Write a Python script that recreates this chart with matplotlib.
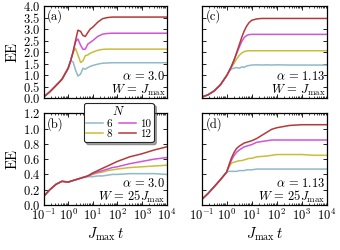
import matplotlib
matplotlib.use("Agg")
import matplotlib.pyplot as plt
from matplotlib.ticker import LogLocator, NullFormatter

plt.rcParams["font.family"] = "serif"
plt.rcParams["font.serif"] = ["cmr10", "DejaVu Serif"]
plt.rcParams["mathtext.fontset"] = "cm"
plt.rcParams["axes.formatter.use_mathtext"] = True
plt.rcParams["font.size"] = 9
plt.rcParams["axes.labelsize"] = 10.5

# time grid (J_max t)
t = [0.1, 0.18, 0.32, 0.56, 1.0, 1.26, 1.58, 2.0, 2.5, 3.2, 4.0, 5.0, 6.3, 7.9,
     10, 16, 25, 40, 63, 100, 316, 1000, 3162, 10000]

sizes = [6, 8, 10, 12]
colors = ["#8fb9c9", "#c9bd3a", "#cf55d6", "#b33a3a"]

# (a) alpha = 3.0, W = J_max
a6 = [0.05, 0.28, 0.55, 0.82, 1.30, 1.62, 1.58, 1.22, 0.96, 1.05, 1.30, 1.26, 1.33, 1.38,
      1.42, 1.48, 1.52, 1.53, 1.54, 1.54, 1.54, 1.54, 1.54, 1.54]
a8 = [0.05, 0.28, 0.55, 0.82, 1.30, 1.62, 1.98, 2.16, 1.88, 1.55, 1.62, 1.85, 1.88, 1.95,
      2.00, 2.08, 2.12, 2.13, 2.13, 2.13, 2.13, 2.13, 2.13, 2.13]
a10 = [0.05, 0.28, 0.55, 0.82, 1.30, 1.62, 2.00, 2.45, 2.57, 2.30, 2.12, 2.13, 2.35, 2.42,
       2.50, 2.68, 2.78, 2.81, 2.82, 2.82, 2.82, 2.82, 2.82, 2.82]
a12 = [0.05, 0.28, 0.55, 0.82, 1.30, 1.62, 2.00, 2.50, 2.95, 2.90, 2.72, 2.68, 2.85, 3.00,
       3.08, 3.30, 3.45, 3.50, 3.52, 3.52, 3.52, 3.52, 3.52, 3.52]

# (c) alpha = 1.13, W = J_max
c6 = [0.05, 0.15, 0.32, 0.58, 0.98, 1.18, 1.27, 1.31, 1.33, 1.30, 1.36, 1.34, 1.40, 1.42,
      1.44, 1.45, 1.44, 1.45, 1.44, 1.45, 1.44, 1.44, 1.44, 1.44]
c8 = [0.05, 0.15, 0.32, 0.58, 0.98, 1.18, 1.36, 1.52, 1.70, 1.86, 1.96, 2.02, 2.05, 2.06,
      2.06, 2.06, 2.06, 2.06, 2.06, 2.06, 2.06, 2.06, 2.06, 2.06]
c10 = [0.05, 0.15, 0.32, 0.58, 0.98, 1.18, 1.40, 1.66, 1.94, 2.22, 2.46, 2.63, 2.72, 2.76,
       2.77, 2.77, 2.77, 2.77, 2.77, 2.77, 2.77, 2.77, 2.77, 2.77]
c12 = [0.05, 0.15, 0.32, 0.58, 0.98, 1.18, 1.40, 1.67, 1.97, 2.32, 2.64, 2.91, 3.13, 3.28,
       3.38, 3.44, 3.46, 3.46, 3.46, 3.46, 3.46, 3.46, 3.46, 3.46]

# (b) alpha = 3.0, W = 25 J_max
b6 = [0.11, 0.20, 0.27, 0.31, 0.30, 0.31, 0.32, 0.33, 0.34, 0.35, 0.36, 0.36, 0.37, 0.37,
      0.37, 0.38, 0.38, 0.39, 0.40, 0.40, 0.41, 0.41, 0.41, 0.40]
b8 = [0.11, 0.20, 0.27, 0.31, 0.30, 0.31, 0.32, 0.33, 0.34, 0.35, 0.36, 0.37, 0.38, 0.39,
      0.40, 0.42, 0.43, 0.45, 0.46, 0.47, 0.49, 0.50, 0.51, 0.52]
b10 = [0.11, 0.20, 0.27, 0.31, 0.30, 0.31, 0.32, 0.33, 0.34, 0.35, 0.36, 0.37, 0.38, 0.39,
       0.41, 0.43, 0.45, 0.47, 0.49, 0.50, 0.54, 0.57, 0.60, 0.62]
b12 = [0.11, 0.20, 0.27, 0.31, 0.30, 0.31, 0.32, 0.33, 0.34, 0.35, 0.36, 0.37, 0.38, 0.40,
       0.42, 0.45, 0.48, 0.51, 0.54, 0.57, 0.63, 0.67, 0.72, 0.76]

# (d) alpha = 1.13, W = 25 J_max
d6 = [0.07, 0.15, 0.24, 0.33, 0.43, 0.44, 0.44, 0.44, 0.44, 0.45, 0.45, 0.45, 0.46, 0.46,
      0.46, 0.47, 0.47, 0.47, 0.47, 0.47, 0.47, 0.47, 0.47, 0.47]
d8 = [0.07, 0.15, 0.24, 0.33, 0.43, 0.50, 0.55, 0.56, 0.57, 0.58, 0.58, 0.59, 0.60, 0.61,
      0.61, 0.63, 0.635, 0.64, 0.65, 0.66, 0.66, 0.66, 0.65, 0.65]
d10 = [0.07, 0.15, 0.24, 0.33, 0.43, 0.52, 0.59, 0.65, 0.69, 0.72, 0.74, 0.76, 0.77, 0.78,
       0.79, 0.82, 0.83, 0.84, 0.85, 0.85, 0.85, 0.85, 0.85, 0.85]
d12 = [0.07, 0.15, 0.24, 0.33, 0.43, 0.53, 0.62, 0.69, 0.74, 0.77, 0.79, 0.81, 0.82, 0.83,
       0.84, 0.87, 0.91, 0.95, 0.99, 1.01, 1.04, 1.05, 1.05, 1.05]

panels = [
    ("(a)", [a6, a8, a10, a12], r"$\alpha\,=\,3.0$", r"$W\,=\,J_{\max}$"),
    ("(c)", [c6, c8, c10, c12], r"$\alpha\,=\,1.13$", r"$W\,=\,J_{\max}$"),
    ("(b)", [b6, b8, b10, b12], r"$\alpha\,=\,3.0$", r"$W\,=\,25J_{\max}$"),
    ("(d)", [d6, d8, d10, d12], r"$\alpha\,=\,1.13$", r"$W\,=\,25J_{\max}$"),
]

fig = plt.figure(figsize=(3.4, 2.5), dpi=100)
boxes = [
    [0.128, 0.607, 0.362, 0.369],
    [0.593, 0.607, 0.368, 0.369],
    [0.128, 0.180, 0.362, 0.367],
    [0.593, 0.180, 0.368, 0.367],
]

axes = []
for i, (tag, series, l1, l2) in enumerate(panels):
    ax = fig.add_axes(boxes[i])
    axes.append(ax)
    for n, y, c in zip(sizes, series, colors):
        ax.plot(t, y, color=c, lw=1.1, label=str(n))
    ax.set_xscale("log")
    ax.set_xlim(0.1, 1e4)
    ax.xaxis.set_major_locator(LogLocator(base=10, numticks=10))
    ax.xaxis.set_minor_locator(LogLocator(base=10, subs=range(2, 10), numticks=10))
    ax.xaxis.set_minor_formatter(NullFormatter())
    ax.tick_params(which="both", direction="in", top=True, right=True, pad=2)
    ax.tick_params(which="major", length=3, width=0.6)
    ax.tick_params(which="minor", length=1.5, width=0.5)
    if i < 2:
        ax.set_ylim(0, 4.0)
        ax.set_yticks([0.0, 0.5, 1.0, 1.5, 2.0, 2.5, 3.0, 3.5, 4.0])
        ax.tick_params(labelbottom=False)
    else:
        ax.set_ylim(0, 1.2)
        ax.set_yticks([0.0, 0.2, 0.4, 0.6, 0.8, 1.0, 1.2])
        ax.set_xlabel(r"$J_{\max}\,t$", labelpad=2)
    if i % 2 == 0:
        ax.set_ylabel("EE", labelpad=3)
    else:
        ax.tick_params(labelleft=False)
    ax.text(0.03, 0.96, tag, transform=ax.transAxes, ha="left", va="top", fontsize=9)
    ax.text(0.99, 0.16, l1, transform=ax.transAxes, ha="right", va="bottom", fontsize=9)
    ax.text(0.99, 0.005, l2, transform=ax.transAxes, ha="right", va="bottom", fontsize=9)
    for s in ax.spines.values():
        s.set_linewidth(0.9)

leg = axes[2].legend(title=r"$N$", ncol=2, loc="upper center", bbox_to_anchor=(0.61, 1.115),
                     fontsize=8, title_fontsize=9, handlelength=1.5, handletextpad=0.35,
                     columnspacing=0.6, labelspacing=0.05, borderpad=0.25, borderaxespad=0,
                     shadow=True, fancybox=True, framealpha=1.0, edgecolor="0.15")
leg.get_frame().set_linewidth(0.8)
leg.set_zorder(10)

fig.savefig("out.png", dpi=100)
